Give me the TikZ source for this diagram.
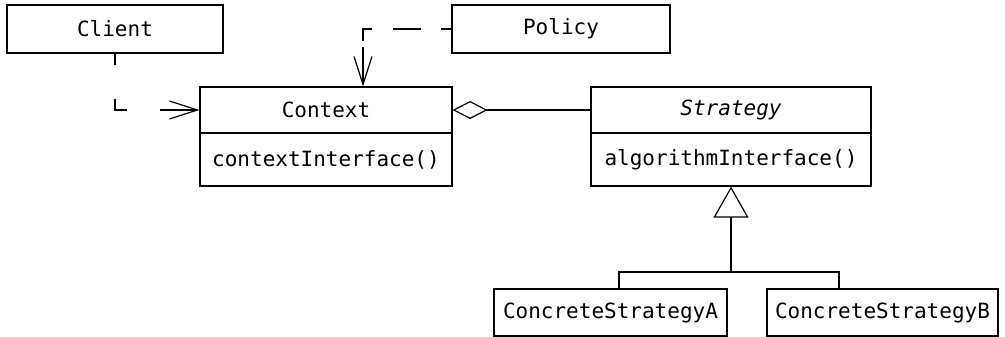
\documentclass[tikz,border=0pt]{standalone}
\usepackage{fontspec}
\setmonofont{DejaVu Sans Mono}
\usetikzlibrary{arrows.meta}
\tikzset{
  cls/.style={draw, line width=1.2pt, rectangle, inner sep=0pt, font=\ttfamily\fontsize{21}{25}\selectfont, anchor=center},
  conn/.style={line width=1.2pt},
  dep/.style={conn, -{Straight Barb[length=28pt, width=18pt]}},
}
\begin{document}
\begin{tikzpicture}[x=1pt, y=-1pt]
\useasboundingbox (0,0) rectangle (1005,337);
% classes
\node[cls, minimum width=216pt, minimum height=48pt] (client) at (115,29) {Client};
\node[cls, minimum width=218pt, minimum height=48pt] (policy) at (561,29) {Policy};
\node[cls, minimum width=252pt, minimum height=46pt] (ctx) at (326,110) {Context};
\node[cls, minimum width=252pt, minimum height=53pt] (ctxop) at (326,159.5) {contextInterface()};
\node[cls, minimum width=280pt, minimum height=46pt] (stra) at (731,110) {\itshape Strategy};
\node[cls, minimum width=280pt, minimum height=53pt] (straop) at (731,159.5) {algorithmInterface()};
\node[cls, minimum width=233pt, minimum height=47pt] (csa) at (610.5,312.5) {ConcreteStrategyA};
\node[cls, minimum width=231pt, minimum height=47pt] (csb) at (882.5,312.5) {ConcreteStrategyB};
% dependencies
\draw[dep, dash pattern=on 11pt off 34pt on 23pt off 33pt on 60pt] (client.south) |- (ctx.west);
\draw[dep, dash pattern=on 10pt off 20pt on 28pt off 21pt on 21pt off 6pt on 60pt] (policy.west) -| ([xshift=37pt]ctx.north);
% aggregation
\draw[conn, {Diamond[open, length=35pt, width=18pt]}-] (ctx.east) -- (stra.west);
% inheritance
\coordinate (j) at (731,272);
\draw[conn, -{Triangle[open, length=31pt, width=35pt]}] (j) -- (straop.south);
\draw[conn] ([xshift=8.5pt]csa.north) |- (j) -| ([xshift=-43.5pt]csb.north);
\end{tikzpicture}
\end{document}
